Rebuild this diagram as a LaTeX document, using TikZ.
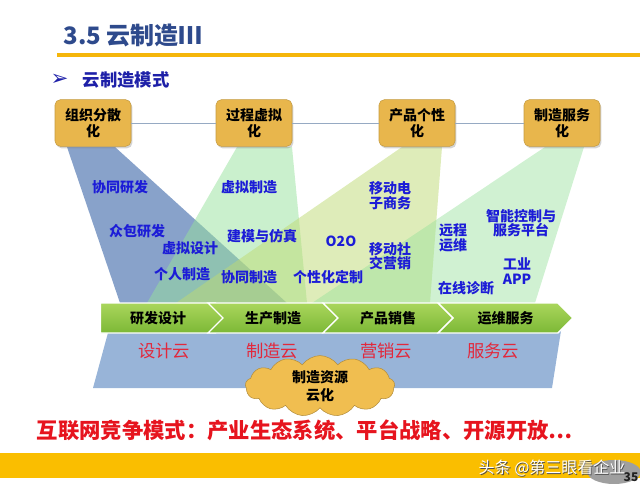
\documentclass[tikz,border=0pt]{standalone}
\usepackage{fontspec}
\setmainfont{Noto Sans CJK SC}
\newfontfamily\symfont{DejaVu Sans}
\usetikzlibrary{positioning, shapes.symbols, shadows}
\definecolor{titleBlue}{RGB}{46,74,140}
\definecolor{subBlue}{RGB}{30,32,168}
\definecolor{labelBlue}{RGB}{28,28,215}
\definecolor{mGold}{RGB}{232,182,76}
\definecolor{cloudGold}{RGB}{240,190,80}
\definecolor{barGold}{RGB}{250,190,0}
\definecolor{lineGold}{RGB}{245,182,10}
\definecolor{linkGray}{RGB}{150,170,195}
\definecolor{beamBlue}{RGB}{136,162,202}
\definecolor{baseBlue}{RGB}{152,180,216}
\definecolor{beamMint}{RGB}{150,225,155}
\definecolor{beamLime}{RGB}{190,218,115}
\definecolor{stageTop}{RGB}{170,214,92}
\definecolor{stageBot}{RGB}{124,184,54}
\definecolor{cloudRed}{RGB}{226,40,60}
\definecolor{mRed}{RGB}{230,20,30}

\begin{document}
\begin{tikzpicture}[x=0.75pt, y=-0.75pt,
  box/.style={fill=mGold, draw=mGold!85!black, rounded corners=4pt,
              minimum width=57pt, minimum height=35pt, inner sep=0pt,
              align=center, font=\bfseries\fontsize{10.5}{12}\selectfont,
              drop shadow={opacity=0.35, shadow xshift=1pt, shadow yshift=-1.5pt}},
  lab/.style={text=labelBlue, align=center, inner sep=0pt,
              font=\bfseries\fontsize{10.5}{11}\selectfont},
  stage/.style={signal, signal to=east, signal pointer angle=90,
                top color=stageTop, bottom color=stageBot, draw=white,
                line width=1pt, minimum height=22.5pt, inner sep=0pt,
                font=\bfseries\fontsize{10.5}{12}\selectfont},
  cloudlab/.style={text=cloudRed, font=\fontsize{13}{14}\selectfont},
  link/.style={draw=linkGray, line width=0.6pt},
]
  \useasboundingbox (0,0) rectangle (640,483);

  % heading
  \node[anchor=west, text=titleBlue, font=\bfseries\fontsize{18}{20}\selectfont]
    (title) at (59,35) {3.5 云制造Ⅲ};
  \draw[lineGold, line width=3pt] (57,55) -- (640,55);
  \node[anchor=west, text=subBlue, font=\bfseries\fontsize{13}{15}\selectfont]
    (subhead) at (78,80) {云制造模式};
  \node[left=7pt of subhead, inner sep=0pt, text=subBlue,
        font=\symfont\fontsize{16}{16}\selectfont] (bullet) {➢};

  % base and beams
  \fill[baseBlue] (112,318) -- (563,318) -- (552,388) -- (93,388) -- cycle;
  \fill[beamBlue] (67,147) -- (115,147) -- (287,303) -- (120,303) -- cycle;
  \fill[beamMint, opacity=0.5] (237,147) -- (292,147) -- (307,303) -- (147,303) -- cycle;
  \fill[beamLime, opacity=0.5] (402,147) -- (442,147) -- (430,303) -- (176,303) -- cycle;
  \fill[beamMint, opacity=0.45] (545,147) -- (584,147) -- (535,303) -- (312,303) -- cycle;

  % trends
  \node[box] (org)  at (93,123)  {组织分散\\化};
  \node[box] (virt) at (254,123) {过程虚拟\\化};
  \node[box] (pers) at (417,123) {产品个性\\化};
  \node[box] (serv) at (562,123) {制造服务\\化};
  \draw[link] (org) -- (virt);
  \draw[link] (virt) -- (pers);
  \draw[link] (pers) -- (serv);

  % labels in the beams
  \node[lab] (coRD)   at (120,187) {协同研发};
  \node[lab] (crowd)  at (137,231) {众包研发};
  \node[lab] (vdes)   at (190,248) {虚拟设计};
  \node[lab] (indiv)  at (182,274) {个人制造};
  \node[lab] (vman)   at (249,187) {虚拟制造};
  \node[lab] (model)  at (262,236) {建模与仿真};
  \node[lab] (coMan)  at (249,277) {协同制造};
  \node[lab] (custom) at (328,277) {个性化定制};
  \node[lab] (oto)    at (341,241) {O2O};
  \node[lab] (mobEC)  at (390,196) {移动电\\子商务};
  \node[lab] (mobSoc) at (390,256) {移动社\\交营销};
  \node[lab] (remote) at (453,238) {远程\\运维};
  \node[lab] (smart)  at (521,223) {智能控制与\\服务平台};
  \node[lab] (iapp)   at (517,271) {工业\\APP};
  \node[lab] (diag)   at (466,288) {在线诊断};

  % value chain
  \node[stage, minimum width=97.5pt] (rd) at (158,318) {研发设计};
  \node[stage, signal from=west, minimum width=97.5pt] (prod) at (273,318) {生产制造};
  \node[stage, signal from=west, minimum width=97.5pt] (sale) at (388,318) {产品销售};
  \node[stage, signal from=west, minimum width=101pt] (ops) at (505.5,318) {运维服务};

  \node[cloudlab] (dcloud) at (164,351) {设计云};
  \node[cloudlab] (mcloud) at (272,351) {制造云};
  \node[cloudlab] (scloud) at (386,351) {营销云};
  \node[cloudlab] (vcloud) at (493,351) {服务云};

  \node[cloud, cloud puffs=13, cloud puff arc=110, aspect=3.2,
        fill=cloudGold, draw=cloudGold!75!black, minimum width=112pt,
        minimum height=36pt, inner sep=0pt, align=center,
        font=\bfseries\fontsize{10.5}{13.5}\selectfont] (res) at (320,386)
    {制造资源\\云化};

  % footer
  \node[anchor=west, text=mRed, font=\bfseries\fontsize{16}{18}\selectfont]
    (compete) at (32,430) {互联网竞争模式：产业生态系统、平台战略、开源开放⋯};
  \fill[barGold] (0,453) rectangle (640,478);
  \fill[gray!75] (614,472) ellipse [x radius=20pt, y radius=9pt];
  \node[text=gray!25!black, font=\bfseries\fontsize{9}{9}\selectfont] (page) at (631,477) {35};
  \node[anchor=west, text=gray!60!black, font=\fontsize{12}{12}\selectfont]
    (markShadow) at (474.8,468.8) {头条 @第三眼看企业};
  \node[anchor=west, text=white, font=\fontsize{12}{12}\selectfont]
    (mark) at (474,468) {头条 @第三眼看企业};
\end{tikzpicture}
\end{document}
